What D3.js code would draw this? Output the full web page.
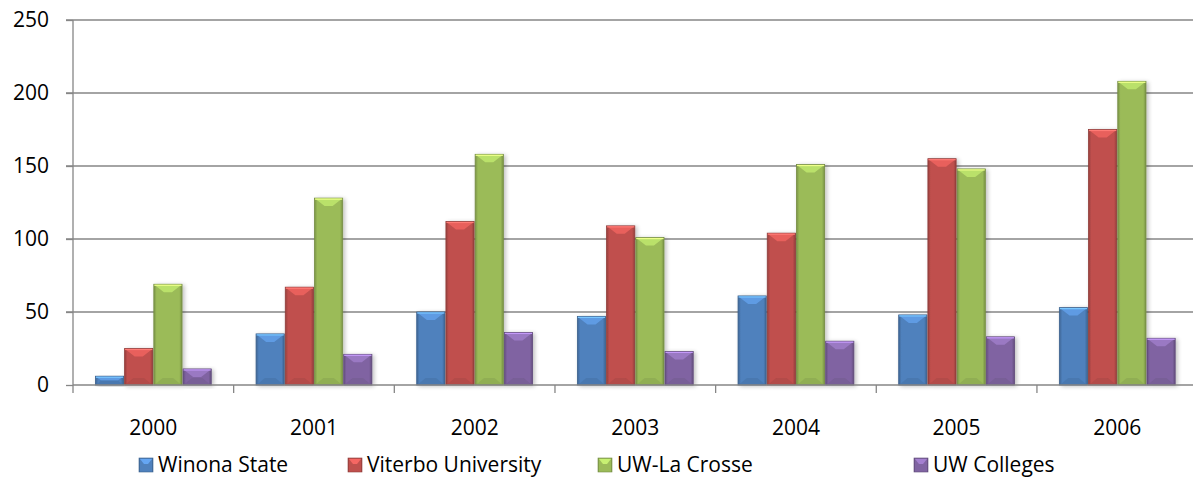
<!DOCTYPE html>
<html>
<head>
<meta charset="utf-8">
<script src="https://cdn.jsdelivr.net/npm/d3@7"></script>
<style>
  body { margin: 0; background: #fff; }
  text { font-family: "Open Sans", "Noto Sans", sans-serif; fill: #000; }
</style>
</head>
<body>
<svg width="1193" height="485"></svg>
<script>
const years = ['2000', '2001', '2002', '2003', '2004', '2005', '2006'];
const seriesNames = ['Winona State', 'Viterbo University', 'UW-La Crosse', 'UW Colleges'];
const winona = [6, 35, 50, 47, 61, 48, 53];
const viterbo = [25, 67, 112, 109, 104, 155, 175];
const laCrosse = [69, 128, 158, 101, 151, 148, 208];
const uwColleges = [11, 21, 36, 23, 30, 33, 32];
const yTicks = [0, 50, 100, 150, 200, 250];
const colors = ['#4f81bd', '#c0504d', '#9bbb59', '#8064a2'];

const seriesValues = [winona, viterbo, laCrosse, uwColleges];

const svg = d3.select('svg');
const plotLeft = 73, plotRight = 1197.6, plotTop = 20, plotBottom = 385;
const fontSize = '21px';

const x = d3.scaleBand()
    .domain(years)
    .range([plotLeft, plotRight]);

// Excel style: gap width 150% -> bar = band / 5.5
const barW = x.bandwidth() / 5.5;
const groupOffset = (x.bandwidth() - barW * 4) / 2;

const y = d3.scaleLinear()
    .domain([0, 250])
    .range([plotBottom, plotTop]);

// gradients
const defs = svg.append('defs');
colors.forEach((c, i) => {
    const g = defs.append('linearGradient')
        .attr('id', 'grad' + i)
        .attr('x1', 0).attr('x2', 1).attr('y1', 0).attr('y2', 0);
    const base = d3.color(c);
    g.append('stop').attr('offset', 0).attr('stop-color', base.darker(0.7));
    g.append('stop').attr('offset', 0.1).attr('stop-color', base);
    g.append('stop').attr('offset', 0.9).attr('stop-color', base);
    g.append('stop').attr('offset', 1).attr('stop-color', base.darker(0.7));
});
const shadow = defs.append('filter').attr('id', 'shadow')
    .attr('x', -0.2).attr('y', -0.2).attr('width', 1.5).attr('height', 1.4);
shadow.append('feGaussianBlur').attr('in', 'SourceAlpha').attr('stdDeviation', 2);
shadow.append('feOffset').attr('dx', 2).attr('dy', 1).attr('result', 'b');
shadow.append('feComponentTransfer').append('feFuncA').attr('type', 'linear').attr('slope', 0.25);
const merge = shadow.append('feMerge');
merge.append('feMergeNode');
merge.append('feMergeNode').attr('in', 'SourceGraphic');

// gridlines
svg.append('g')
    .selectAll('line')
    .data(yTicks.filter(d => d > 0))
    .join('line')
        .attr('x1', plotLeft - 7)
        .attr('x2', 1193)
        .attr('y1', d => y(d))
        .attr('y2', d => y(d))
        .attr('stroke', '#868686')
        .attr('stroke-width', 1.3);

// y axis
const yAxis = svg.append('g')
    .attr('transform', `translate(${plotLeft},0)`)
    .call(d3.axisLeft(y).tickValues(yTicks).tickSize(7).tickPadding(17));
yAxis.select('.domain').remove();
yAxis.selectAll('line').attr('stroke', '#868686').attr('stroke-width', 1.3);
yAxis.selectAll('text').style('font-size', fontSize).attr('fill', '#000');
svg.append('line')
    .attr('x1', plotLeft).attr('x2', plotLeft)
    .attr('y1', plotTop).attr('y2', plotBottom + 8)
    .attr('stroke', '#868686').attr('stroke-width', 1.3);

// bars
const rows = [];
years.forEach((yr, i) => {
    seriesValues.forEach((vals, s) => {
        rows.push({ year: yr, s: s, value: vals[i] });
    });
});

const bars = svg.append('g')
    .selectAll('g')
    .data(rows)
    .join('g')
        .attr('transform', d => `translate(${x(d.year) + groupOffset + d.s * barW},0)`)
        .attr('filter', 'url(#shadow)');

bars.append('rect')
    .attr('x', 0.5)
    .attr('width', barW - 1)
    .attr('y', d => y(d.value))
    .attr('height', d => plotBottom - y(d.value))
    .attr('fill', d => `url(#grad${d.s})`)
    .attr('stroke', d => d3.color(colors[d.s]).darker(0.8))
    .attr('stroke-width', 0.8);

// top bevel
bars.append('path')
    .attr('d', d => {
        const t = y(d.value);
        const h = Math.min(8, (plotBottom - t) / 2);
        return `M1,${t + 0.5}L${barW - 1},${t + 0.5}L${barW - 1 - h * 1.2},${t + h}L${1 + h * 1.2},${t + h}Z`;
    })
    .attr('fill', d => d3.color(colors[d.s]).brighter(0.6))
    .attr('opacity', 0.85);
bars.append('line')
    .attr('x1', 1).attr('x2', barW - 1)
    .attr('y1', d => y(d.value) + 1).attr('y2', d => y(d.value) + 1)
    .attr('stroke', d => d3.color(colors[d.s]).brighter(1.2))
    .attr('stroke-width', 1.2);

// bottom bevel
bars.append('path')
    .attr('d', d => {
        const t = y(d.value);
        const h = Math.min(7, (plotBottom - t) / 2);
        return `M1,${plotBottom}L${barW - 1},${plotBottom}L${barW - 1 - h * 1.2},${plotBottom - h}L${1 + h * 1.2},${plotBottom - h}Z`;
    })
    .attr('fill', d => d3.color(colors[d.s]).darker(0.4))
    .attr('opacity', 0.5);

// x axis
const xAxis = svg.append('g')
    .attr('transform', `translate(0,${plotBottom})`)
    .call(d3.axisBottom(x).tickSize(0).tickPadding(35));
xAxis.select('.domain').remove();
xAxis.selectAll('text').style('font-size', fontSize).attr('fill', '#000');
svg.append('line')
    .attr('x1', plotLeft).attr('x2', 1193)
    .attr('y1', plotBottom).attr('y2', plotBottom)
    .attr('stroke', '#868686').attr('stroke-width', 1.3);
svg.append('g')
    .selectAll('line')
    .data(years.slice(1))
    .join('line')
        .attr('x1', d => x(d)).attr('x2', d => x(d))
        .attr('y1', plotBottom).attr('y2', plotBottom + 8)
        .attr('stroke', '#868686').attr('stroke-width', 1.3);

// legend
const legendX = [139, 348, 598, 914];
const legend = svg.append('g')
    .selectAll('g')
    .data(seriesNames)
    .join('g')
        .attr('transform', (d, i) => `translate(${legendX[i]},458)`);
legend.append('rect')
    .attr('width', 14).attr('height', 14)
    .attr('fill', (d, i) => `url(#grad${i})`)
    .attr('stroke', (d, i) => d3.color(colors[i]).darker(0.8))
    .attr('stroke-width', 0.6);
legend.append('path')
    .attr('d', 'M1,1L13,1L9,6L5,6Z')
    .attr('fill', (d, i) => d3.color(colors[i]).brighter(0.7));
legend.append('text')
    .attr('x', 19)
    .attr('y', 7)
    .attr('dy', '0.35em')
    .style('font-size', fontSize)
    .text(d => d);
</script>
</body>
</html>
